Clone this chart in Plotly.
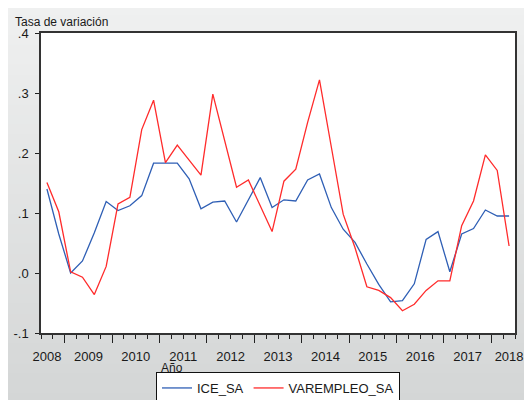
import plotly.graph_objects as go

# ---- data (quarterly, 2008Q3 .. 2018Q2) ----
ice_sa = [0.140, 0.065, 0.000, 0.020, 0.067, 0.119, 0.104, 0.112, 0.129, 0.183,
          0.183, 0.183, 0.157, 0.107, 0.118, 0.120, 0.085, 0.123, 0.159, 0.109,
          0.122, 0.120, 0.155, 0.165, 0.109, 0.073, 0.051, 0.015, -0.019, -0.048,
          -0.046, -0.018, 0.056, 0.069, 0.002, 0.065, 0.074, 0.105, 0.095, 0.095]
varempleo_sa = [0.151, 0.102, 0.002, -0.007, -0.036, 0.011, 0.115, 0.126, 0.239, 0.288,
                0.184, 0.213, 0.188, 0.163, 0.298, 0.220, 0.143, 0.155, 0.112, 0.069,
                0.153, 0.173, 0.251, 0.322, 0.210, 0.098, 0.042, -0.023, -0.029, -0.041,
                -0.063, -0.052, -0.029, -0.013, -0.013, 0.079, 0.120, 0.197, 0.171, 0.045]
year_labels = ["2008", "2009", "2010", "2011", "2012", "2013", "2014", "2015", "2016", "2017", "2018"]
y_tickvals = [-0.1, 0.0, 0.1, 0.2, 0.3, 0.4]
y_ticktext = ["-.1", ".0", ".1", ".2", ".3", ".4"]

n = len(ice_sa)
x = list(range(n))
# year label positions: centred in each year's quarters (series starts in Q3)
label_pos = [0.0] + [3.5 + 4 * k for k in range(9)] + [n - 1.0]
major_ticks = [1.5 + 4 * k for k in range(10)]

FONT = "Liberation Sans, Arial, sans-serif"
TXT = "#1a1a1a"

W, H = 524, 392
ML, MR, MT, MB = 33, 17, 25, 67
PW, PH = W - ML - MR, H - MT - MB

fig = go.Figure()
fig.add_trace(go.Scatter(x=x, y=ice_sa, mode="lines", name="ICE_SA",
                         line=dict(color="#2f5fb5", width=1.3)))
fig.add_trace(go.Scatter(x=x, y=varempleo_sa, mode="lines", name="VAREMPLEO_SA",
                         line=dict(color="#ff2b2b", width=1.3)))
# invisible helper trace for the label axis
fig.add_trace(go.Scatter(x=[x[0], x[-1]], y=[0, 0], xaxis="x2", mode="lines",
                         line=dict(width=0), showlegend=False, hoverinfo="skip"))

# background gradient bands (paper coordinates; plot area is 0..1)
shapes = []
nb = 40
y_top, y_bot = 1 + MT / PH + 0.01, -MB / PH - 0.01
x_l, x_r = -ML / PW - 0.01, 1 + MR / PW + 0.01
c_top = (239, 240, 240)
c_bot = (212, 214, 214)
for i in range(nb):
    t = i / (nb - 1)
    c = tuple(int(round(a + (b - a) * t)) for a, b in zip(c_top, c_bot))
    y1 = y_top - (y_top - y_bot) * i / nb
    y0 = y_top - (y_top - y_bot) * (i + 1) / nb
    shapes.append(dict(type="rect", xref="paper", yref="paper", x0=x_l, x1=x_r,
                       y0=y0 - 0.003, y1=y1, fillcolor="rgb(%d,%d,%d)" % c,
                       line=dict(width=0), layer="below"))
shapes.append(dict(type="rect", xref="paper", yref="paper", x0=0, x1=1, y0=0, y1=1,
                   fillcolor="white", line=dict(width=0), layer="below"))

fig.update_layout(
    width=W, height=H,
    margin=dict(l=ML, r=MR, t=MT, b=MB, autoexpand=False),
    paper_bgcolor="rgb(226,227,227)", plot_bgcolor="white",
    font=dict(family=FONT, size=13, color=TXT),
    shapes=shapes,
    showlegend=True,
    legend=dict(orientation="h", x=0.5, xanchor="center",
                yref="container", y=(H - 364) / H, yanchor="top",
                bgcolor="white", bordercolor="#111", borderwidth=1,
                font=dict(family=FONT, size=13, color=TXT),
                itemwidth=30, tracegroupgap=0),
    xaxis=dict(range=[-0.5, n - 0.5], showgrid=False, zeroline=False, automargin=False,
               showline=True, linecolor="#333", linewidth=1.5, mirror=True,
               tickvals=major_ticks, ticktext=[""] * len(major_ticks),
               ticks="outside", ticklen=8, tickcolor="#222", tickwidth=1.2,
               minor=dict(ticks="outside", tick0=-0.5, dtick=1, ticklen=4,
                          tickcolor="#222", tickwidth=1, showgrid=False)),
    xaxis2=dict(range=[-0.5, n - 0.5], overlaying="x", side="bottom", anchor="y",
                showgrid=False, zeroline=False, showline=False, automargin=False,
                tickvals=label_pos, ticktext=year_labels,
                ticks="outside", ticklen=11, tickcolor="rgba(0,0,0,0)",
                tickfont=dict(family=FONT, size=13, color=TXT)),
    yaxis=dict(range=[-0.1, 0.4], showgrid=False, zeroline=False, automargin=False,
               showline=True, linecolor="#333", linewidth=1.5, mirror=True,
               tickvals=y_tickvals, ticktext=y_ticktext,
               ticks="outside", ticklen=4, tickcolor="#222", ticklabelstandoff=4,
               tickfont=dict(family=FONT, size=13, color=TXT)),
    annotations=[
        dict(text="Tasa de variación", xref="paper", yref="paper", x=-0.06, y=1.037,
             xanchor="left", yanchor="middle", showarrow=False,
             font=dict(family=FONT, size=12, color=TXT)),
        dict(text="Año", xref="paper", yref="paper", x=0.276, y=-0.117,
             xanchor="center", yanchor="middle", showarrow=False,
             font=dict(family=FONT, size=12, color=TXT)),
    ],
)

fig.write_html("out.html")
